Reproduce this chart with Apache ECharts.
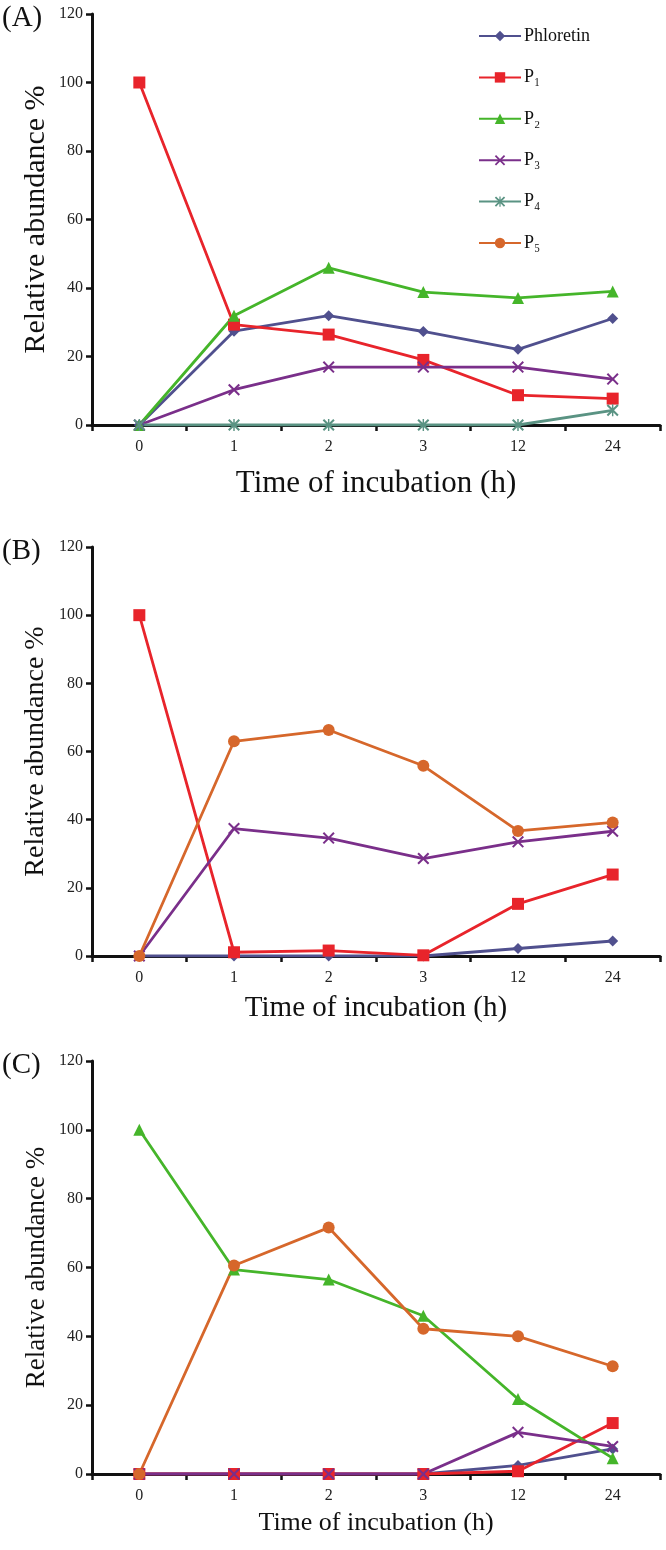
<!DOCTYPE html>
<html>
<head>
<meta charset="utf-8">
<script src="https://cdn.jsdelivr.net/npm/echarts@6/dist/echarts.min.js"></script>
<style>
html,body{margin:0;padding:0;background:#fff;}
#chart{width:666px;height:1550px;}
</style>
</head>
<body>
<div id="chart"></div>
<script>
// ---- data ----
const timeLabels = ['0', '1', '2', '3', '12', '24'];
const seriesNames = ['Phloretin', 'P\u2081', 'P\u2082', 'P\u2083', 'P\u2084', 'P\u2085'];
const yTicks = [0, 20, 40, 60, 80, 100, 120];

// Panel A
const phloretinA = [0, 27.4, 31.9, 27.3, 22.1, 31.1];
const p1A = [100, 29.3, 26.4, 19.0, 8.7, 7.7];
const p2A = [0, 31.9, 45.9, 38.8, 37.1, 39.0];
const p3A = [0, 10.3, 16.9, 16.9, 16.9, 13.4];
const p4A = [0, 0, 0, 0, 0, 4.3];
const p5A = [null, null, null, null, null, null];

// Panel B
const phloretinB = [0, 0, 0, 0, 2.2, 4.4];
const p1B = [100, 1.1, 1.6, 0.2, 15.3, 23.9];
const p2B = [null, null, null, null, null, null];
const p3B = [0, 37.4, 34.6, 28.6, 33.5, 36.6];
const p4B = [null, null, null, null, null, null];
const p5B = [0, 63.0, 66.3, 55.8, 36.7, 39.2];

// Panel C
const phloretinC = [0, 0, 0, 0, 2.5, 7.3];
const p1C = [0, 0, 0, 0, 0.8, 14.8];
const p2C = [100, 59.4, 56.5, 46.0, 21.8, 4.6];
const p3C = [0, 0, 0, 0, 12.1, 8.0];
const p4C = [null, null, null, null, null, null];
const p5C = [0, 60.6, 71.6, 42.2, 40.0, 31.3];

const panelLabels = ['(A)', '(B)', '(C)'];
const xTitle = 'Time of incubation (h)';
const yTitle = 'Relative abundance %';

// ---- styles ----
const FONT = 'Liberation Serif';
const colors = ['#50508e', '#e8242b', '#45b52a', '#7a2f8a', '#5a9383', '#d6672b'];
const crossPath = 'path://M0,1.2 L1.2,0 L5,3.8 L8.8,0 L10,1.2 L6.2,5 L10,8.8 L8.8,10 L5,6.2 L1.2,10 L0,8.8 L3.8,5 Z';
const starPath = 'path://M0,1.2 L1.2,0 L5,3.8 L8.8,0 L10,1.2 L6.2,5 L10,8.8 L8.8,10 L5,6.2 L1.2,10 L0,8.8 L3.8,5 Z M4.4,0 L5.6,0 L5.6,10 L4.4,10 Z';
const symbols = ['diamond', 'rect', 'triangle', crossPath, starPath, 'circle'];
const symbolSizes = [11, 12, 12, 12, 12, 12];

const panels = [
  { data: [phloretinA, p1A, p2A, p3A, p4A, p5A], top: 14, height: 411, xName: 31, yName: 30, yGap: 41, xGap: 43 },
  { data: [phloretinB, p1B, p2B, p3B, p4B, p5B], top: 547, height: 409, xName: 29, yName: 28, yGap: 42, xGap: 38 },
  { data: [phloretinC, p1C, p2C, p3C, p4C, p5C], top: 1061, height: 413, xName: 26, yName: 27, yGap: 42, xGap: 36 }
];

const grids = [], xAxes = [], yAxes = [], series = [], graphics = [];
panels.forEach((p, i) => {
  grids.push({ left: 92, width: 568, top: p.top, height: p.height, containLabel: false });
  xAxes.push({
    type: 'category', gridIndex: i, data: timeLabels, boundaryGap: true,
    axisLine: { lineStyle: { color: '#111', width: 3 } },
    axisTick: { show: true, interval: 0, length: 6, lineStyle: { color: '#111', width: 2.5 } },
    axisLabel: { fontFamily: FONT, fontSize: 16, color: '#222', margin: 14 },
    name: xTitle, nameLocation: 'middle', nameGap: p.xGap,
    nameTextStyle: { fontFamily: FONT, fontSize: p.xName, color: '#111' },
    splitLine: { show: false }
  });
  yAxes.push({
    type: 'value', gridIndex: i, min: 0, max: 120, interval: 20,
    axisLine: { show: true, lineStyle: { color: '#111', width: 3 } },
    axisTick: { show: true, length: 6, lineStyle: { color: '#111', width: 2.5 } },
    axisLabel: { fontFamily: FONT, fontSize: 16, color: '#222', margin: 9 },
    splitLine: { show: false },
    name: yTitle, nameLocation: 'middle', nameGap: p.yGap, nameRotate: 90,
    nameMoveOverlap: false,
    nameTextStyle: { fontFamily: FONT, fontSize: p.yName, color: '#111' }
  });
  p.data.forEach((d, k) => {
    series.push({
      name: seriesNames[k], type: 'line', xAxisIndex: i, yAxisIndex: i,
      data: d, symbol: symbols[k], symbolSize: symbolSizes[k], showSymbol: true,
      connectNulls: false, animation: false,
      lineStyle: { color: colors[k], width: 2.8 },
      itemStyle: { color: colors[k], borderWidth: 0 },
      emphasis: { disabled: true }
    });
  });
  graphics.push({
    type: 'text', left: 2, top: p.top - 10,
    style: { text: panelLabels[i], font: '29px "' + FONT + '"', fill: '#111' }
  });
});

const chart = echarts.init(document.getElementById('chart'), null, { renderer: 'canvas' });
chart.setOption({
  animation: false,
  backgroundColor: '#fff',
  grid: grids, xAxis: xAxes, yAxis: yAxes, series: series, graphic: graphics,
  legend: {
    data: seriesNames, orient: 'vertical', left: 473, top: 22,
    itemWidth: 42, itemHeight: 13, itemGap: 23.4,
    textStyle: { fontFamily: FONT, fontSize: 18, color: '#111', padding: [0, 0, 0, -2] },
    selectedMode: false
  }
});
</script>
</body>
</html>
